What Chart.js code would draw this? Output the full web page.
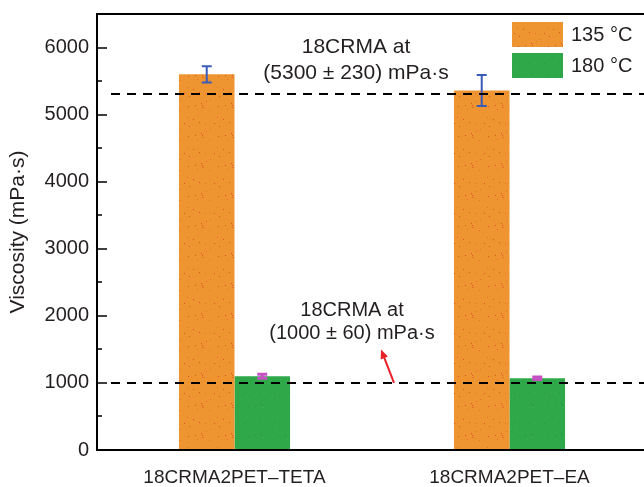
<!DOCTYPE html>
<html>
<head>
<meta charset="utf-8">
<script src="https://cdn.jsdelivr.net/npm/chart.js@4"></script>
<style>
html, body { margin: 0; padding: 0; background: #fff; overflow: hidden; }
</style>
</head>
<body>
<canvas id="myChart" width="700" height="487"></canvas>
<script>
let categories = ['18CRMA2PET\u2013TETA', '18CRMA2PET\u2013EA'];
let seriesNames = ['135 °C', '180 °C'];
let visc135 = [5600, 5360];
let err135 = [120, 230];
let visc180 = [1100, 1070];
let err180 = [30, 20];
let refValues = [5300, 1000];
let refText = [['18CRMA at', '(5300 ± 230) mPa·s'], ['18CRMA at', '(1000 ± 60) mPa·s']];
let yTicks = [0, 1000, 2000, 3000, 4000, 5000, 6000];
let yMinor = [500, 1500, 2500, 3500, 4500, 5500];

const FONT = '"Liberation Sans", Arial, sans-serif';
const TXT = '#231f20';

// speckled fill like the original bars
function makePattern(base, dots, n) {
    let c = document.createElement('canvas');
    c.width = 30; c.height = 30;
    let g = c.getContext('2d');
    g.fillStyle = base;
    g.fillRect(0, 0, 30, 30);
    let s = 11;
    for (let i = 0; i < n; i++) {
        s = (s * 73 + 41) % 1021;
        let x = s % 30;
        s = (s * 73 + 41) % 1021;
        let y = s % 30;
        g.fillStyle = dots[i % dots.length];
        g.fillRect(x, y, 1, 1);
    }
    return g.createPattern(c, 'repeat');
}

let orange = makePattern('#ee9532', ['#e0502a', '#e8702e'], 16);
let green = makePattern('#2fa84a', ['#28983f', '#38b252'], 14);
let errColors = ['#3a5cb8', '#c651c4'];

let extras = {
    id: 'extras',
    afterDatasetsDraw(chart) {
        let c = chart.ctx, a = chart.chartArea, y = chart.scales.y, x = chart.scales.x;
        c.save();

        // error bars
        [err135, err180].forEach((errs, d) => {
            let vals = chart.data.datasets[d].data;
            chart.getDatasetMeta(d).data.forEach((bar, i) => {
                let top = y.getPixelForValue(vals[i] + errs[i]);
                let bot = y.getPixelForValue(vals[i] - errs[i]);
                c.strokeStyle = errColors[d];
                c.lineWidth = d === 0 ? 2 : 3;
                c.beginPath();
                c.moveTo(bar.x, top); c.lineTo(bar.x, bot);
                c.moveTo(bar.x - 5, top); c.lineTo(bar.x + 5, top);
                c.moveTo(bar.x - 5, bot); c.lineTo(bar.x + 5, bot);
                c.stroke();
            });
        });

        // reference lines
        c.strokeStyle = '#000';
        c.lineWidth = 2;
        c.setLineDash([9, 7]);
        refValues.forEach(v => {
            let py = Math.round(y.getPixelForValue(v));
            c.beginPath();
            c.moveTo(a.left + 14, py); c.lineTo(a.right, py);
            c.stroke();
        });
        c.setLineDash([]);

        // frame
        c.lineWidth = 2;
        c.strokeRect(a.left, a.top, a.right - a.left, a.bottom - a.top);

        // inward ticks
        c.beginPath();
        yTicks.forEach(v => {
            let py = Math.round(y.getPixelForValue(v));
            c.moveTo(a.left, py); c.lineTo(a.left + 10, py);
        });
        yMinor.forEach(v => {
            let py = Math.round(y.getPixelForValue(v));
            c.moveTo(a.left, py); c.lineTo(a.left + 5, py);
        });
        c.lineWidth = 1.5;
        c.stroke();

        // annotation texts
        let mid = (x.getPixelForValue(0) + x.getPixelForValue(1)) / 2;
        c.fillStyle = TXT;
        c.textAlign = 'center';
        c.textBaseline = 'middle';
        c.font = '21px ' + FONT;
        c.fillText(refText[0][0], mid - 16, y.getPixelForValue(6000));
        c.fillText(refText[0][1], mid - 16, y.getPixelForValue(5610));
        c.font = '20px ' + FONT;
        c.fillText(refText[1][0], mid - 20, y.getPixelForValue(2080));
        c.fillText(refText[1][1], mid - 20, y.getPixelForValue(1740));

        // red arrow
        let x0 = mid + 22, y0 = y.getPixelForValue(1000);
        let x1 = mid + 9, y1 = y.getPixelForValue(1500);
        let ang = Math.atan2(y1 - y0, x1 - x0);
        c.strokeStyle = '#e8202a';
        c.fillStyle = '#e8202a';
        c.lineWidth = 2;
        c.beginPath();
        c.moveTo(x0, y0); c.lineTo(x1 - 6 * Math.cos(ang), y1 - 6 * Math.sin(ang));
        c.stroke();
        c.beginPath();
        c.moveTo(x1, y1);
        c.lineTo(x1 - 10 * Math.cos(ang - 0.4), y1 - 10 * Math.sin(ang - 0.4));
        c.lineTo(x1 - 10 * Math.cos(ang + 0.4), y1 - 10 * Math.sin(ang + 0.4));
        c.closePath();
        c.fill();

        // legend
        let fills = [orange, green];
        c.textAlign = 'left';
        c.font = '20px ' + FONT;
        seriesNames.forEach((n, i) => {
            let ly = 22 + i * 31;
            c.fillStyle = fills[i];
            c.fillRect(512, ly, 51, 25);
            c.fillStyle = TXT;
            c.fillText(n, 571, ly + 13);
        });

        c.restore();
    }
};

let myChart = new Chart(document.getElementById('myChart').getContext('2d'), {
    type: 'bar',
    data: {
        labels: categories,
        datasets: [
            { label: seriesNames[0], data: visc135, backgroundColor: orange, borderWidth: 0 },
            { label: seriesNames[1], data: visc180, backgroundColor: green, borderWidth: 0 }
        ]
    },
    options: {
        responsive: false,
        animation: false,
        devicePixelRatio: 1,
        layout: { padding: { top: 14, right: 53, left: 0, bottom: 0 } },
        categoryPercentage: 0.404,
        barPercentage: 1,
        plugins: { legend: { display: false }, tooltip: { enabled: false } },
        scales: {
            x: {
                grid: { display: false, drawTicks: false },
                border: { display: false },
                ticks: { font: { family: FONT, size: 19 }, color: TXT, padding: 16 },
                afterFit(s) { s.height = 37; s.paddingLeft = 0; s.paddingRight = 0; }
            },
            y: {
                min: 0,
                max: 6500,
                afterBuildTicks(s) { s.ticks = yTicks.map(v => ({ value: v })); },
                grid: { display: false, drawTicks: false },
                border: { display: false },
                ticks: {
                    font: { family: FONT, size: 20 },
                    color: TXT,
                    padding: 8,
                    callback: v => String(v)
                },
                title: {
                    display: true,
                    text: 'Viscosity (mPa·s)',
                    font: { family: FONT, size: 21 },
                    color: TXT,
                    padding: { top: 6, bottom: 0 }
                },
                afterFit(s) { s.width = 97; s.paddingTop = 0; s.paddingBottom = 0; }
            }
        }
    },
    plugins: [extras]
});
</script>
</body>
</html>
